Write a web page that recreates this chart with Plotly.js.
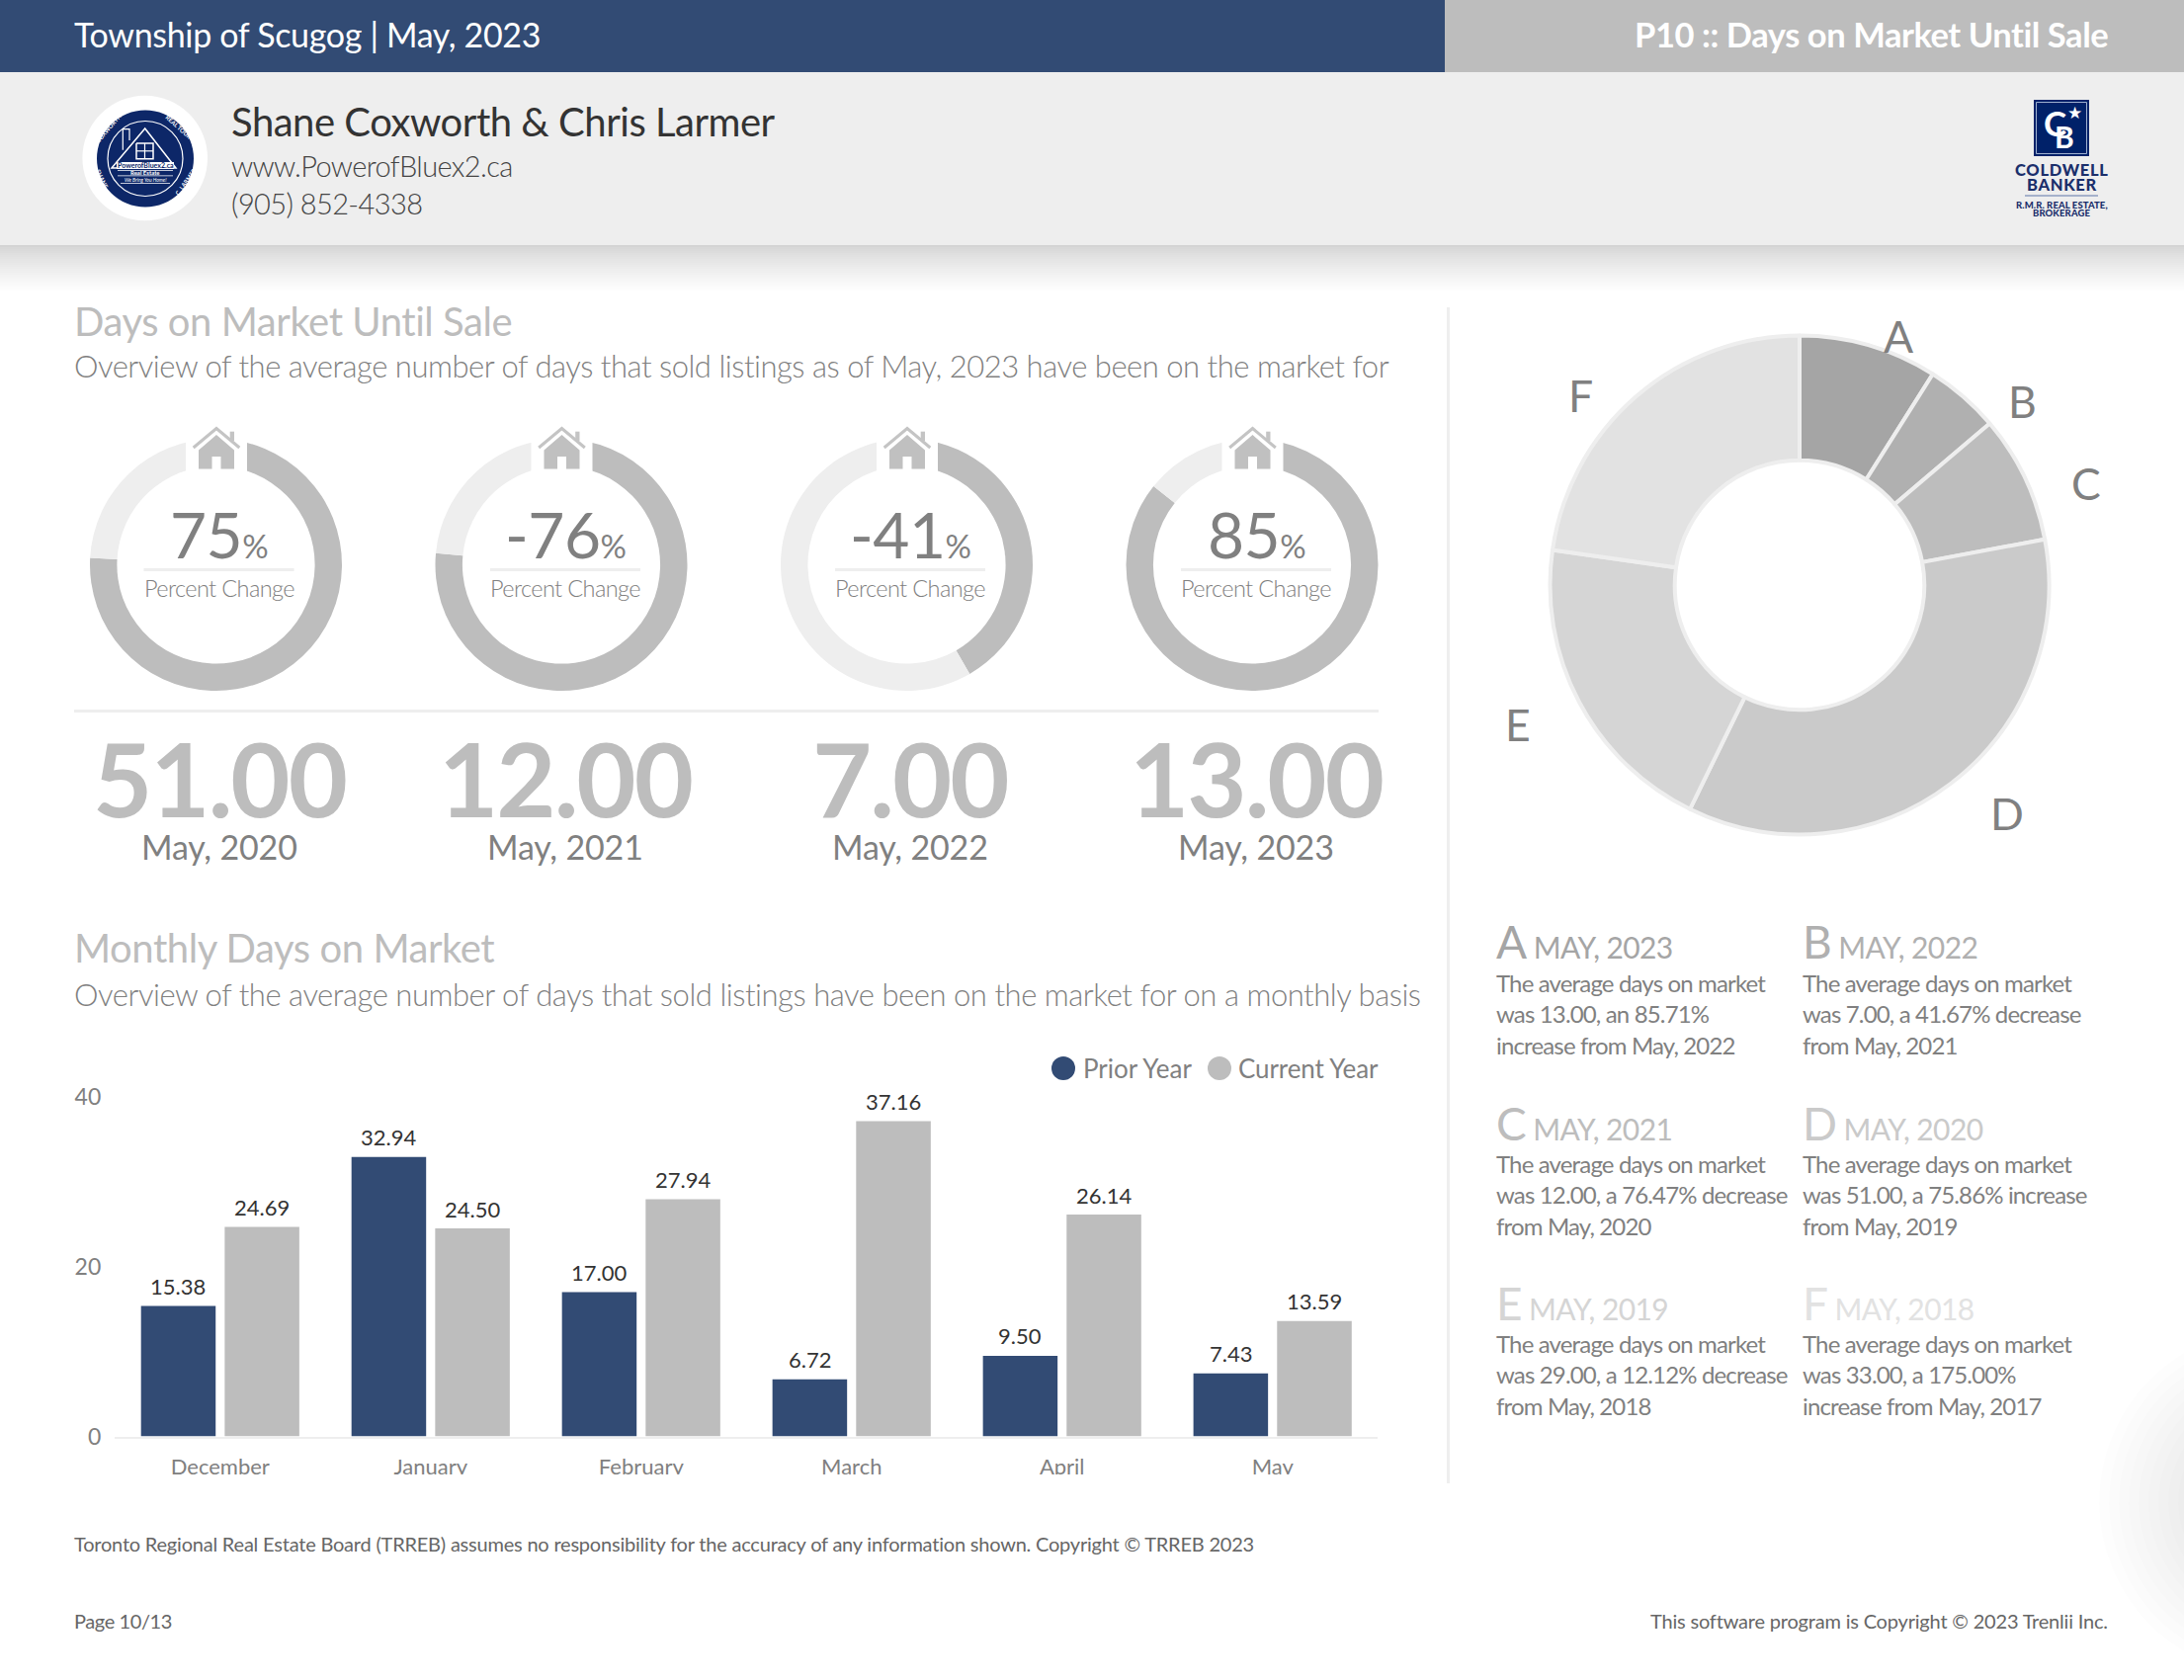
<!DOCTYPE html>
<html><head><meta charset="utf-8">
<script src="https://cdn.plot.ly/plotly-3.0.1.min.js"></script>
<style>html,body{margin:0;padding:0;background:#fff}#chart{width:2210px;height:1700px}</style>
</head><body><div id="chart"></div>
<script>
// ---------- data ----------
const months = ["December","January","February","March","April","May"];
const priorYear = [15.38,32.94,17.00,6.72,9.50,7.43];
const currentYear = [24.69,24.50,27.94,37.16,26.14,13.59];
const seriesNames = ["Prior Year","Current Year"];
const yTicks = [0,20,40];
const ringPeriods = ["May, 2020","May, 2021","May, 2022","May, 2023"];
const ringValues = ["51.00","12.00","7.00","13.00"];
const ringLabels = ["75","-76","-41","85"];
const ringShare = [75.86,76.47,41.67,85.71];
const pieLetters = ["A","B","C","D","E","F"];
const pieValues = [13,7,12,51,29,33];
const pieColors = ["#a5a5a5","#b0b0b0","#bdbdbd","#cacaca","#d5d5d5","#e2e2e2"];
const piePeriods = ["MAY, 2023","MAY, 2022","MAY, 2021","MAY, 2020","MAY, 2019","MAY, 2018"];
const pieNotes = [
 ["The average days on market","was 13.00, an 85.71%","increase from May, 2022"],
 ["The average days on market","was 7.00, a 41.67% decrease","from May, 2021"],
 ["The average days on market","was 12.00, a 76.47% decrease","from May, 2020"],
 ["The average days on market","was 51.00, a 75.86% increase","from May, 2019"],
 ["The average days on market","was 29.00, a 12.12% decrease","from May, 2018"],
 ["The average days on market","was 33.00, a 175.00%","increase from May, 2017"]
];
// ---------- page geometry helpers ----------
const W=2210,H=1700,FONT="Lato";
const fx=p=>p/W, fy=p=>1-p/H;
const NAVY="#324b74",GREY="#bdbdbd",PALE="#eeeeee";
const shapes=[],annotations=[];
function rect(x0,y0,x1,y1,c,layer){shapes.push({type:"rect",xref:"paper",yref:"paper",x0:fx(x0),x1:fx(x1),y0:fy(y0),y1:fy(y1),fillcolor:c,line:{width:0},layer:layer||"above"});}
function circle(cx,cy,r,fill,lc,lw,layer){shapes.push({type:"circle",xref:"paper",yref:"paper",x0:fx(cx-r),x1:fx(cx+r),y0:fy(cy+r),y1:fy(cy-r),fillcolor:fill,line:{width:lw||0,color:lc||fill},layer:layer||"above"});}
function path(pts,fill,lc,lw){const d=pts.map((p,i)=>(i?"L":"M")+fx(p[0]).toFixed(6)+","+fy(p[1]).toFixed(6)).join(" ")+(fill?" Z":"");
 shapes.push({type:"path",xref:"paper",yref:"paper",path:d,fillcolor:fill||"rgba(0,0,0,0)",line:{width:lw||0,color:lc||fill},layer:"above"});}
function txt(t,x,y,size,color,o){o=o||{};const s=o.ls?`<span style="letter-spacing:${o.ls}px">${t}</span>`:t;
 annotations.push({text:s,x:fx(x),y:fy(y),xref:"paper",yref:"paper",showarrow:false,xanchor:o.a||"left",yanchor:"middle",align:o.a||"left",textangle:o.r||0,
 font:{family:FONT,size:size,color:color,weight:o.w||400,style:o.i?"italic":"normal"},borderpad:0,borderwidth:0});}

// ---------- page background glow, header ----------
for(let i=0;i<16;i++){circle(2300,1520,176-i*10,"rgba(0,0,0,0.0075)",null,0,"below");}
rect(0,0,1462,73,NAVY);rect(1462,0,W,73,GREY);rect(0,73,W,248,PALE);
const shadeSteps=24;
for(let i=0;i<shadeSteps;i++){const v=Math.round(212+(255-212)*Math.pow(i/(shadeSteps-1),0.8));rect(0,248+i*2,W,250+i*2,`rgb(${v},${v},${v})`);}
txt("Township of Scugog | May, 2023",75,34,34,"#ffffff",{ls:-0.33});
txt("P10 :: Days on Market Until Sale",2133,34,34.5,"#ffffff",{a:"right",w:700,ls:-0.44});
txt("Shane Coxworth & Chris Larmer",234,123,40,"#333333",{ls:-0.48});
txt("www.PowerofBluex2.ca",234,167,29,"#444444",{w:300,ls:-0.62});
txt("(905) 852-4338",234,205,29,"#444444",{w:300,ls:-0.6});
// agent badge
const BADGE="#0d2768";
circle(146.7,160,63.3,"#ffffff");circle(147,160.5,49,BADGE);circle(147,160.5,38,"rgba(0,0,0,0)","#ffffff",1.2);
path([[124.3,151.7],[124.3,130.7],[131,130.7],[131,142]],null,"#ffffff",1.2);
path([[146.7,130],[113,170],[178,170]],BADGE,"#ffffff",1.5);
path([[138,145],[155,145],[155,160.7],[138,160.7],[138,145]],null,"#ffffff",1.5);path([[146.5,145],[146.5,160.7]],null,"#ffffff",1.2);path([[138,152.8],[155,152.8]],null,"#ffffff",1.2);
rect(118,164,176,171,"#ffffff");
rect(119,172,175,172.8,"#ffffff");rect(119,177.5,175,178.3,"#ffffff");rect(122,185,172,185.8,"#ffffff");
txt("PowerofBluex2.ca",147,167.5,7,BADGE,{a:"center",w:700});
txt("Real Estate",147,175,6,"#ffffff",{a:"center",w:700});
txt("We Bring You Home!",147,181.7,5,"#ffffff",{a:"center",i:true});
txt("COXWORTH",110,130,6,"#ffffff",{a:"center",r:-50,w:700});
txt("REAL TOUR",181,128,6,"#ffffff",{a:"center",r:42,w:700});
txt("SHANE",103,181,6,"#ffffff",{a:"center",r:65,w:700});
txt("C. LARMER",187,184,6,"#ffffff",{a:"center",r:-55,w:700});
// brokerage mark
rect(2058,101,2114,158,"#002169");
path([[2060.5,103.5],[2111.5,103.5],[2111.5,155.5],[2060.5,155.5],[2060.5,103.5]],null,"#9fb0d0",1);
txt("C",2079,124,35,"#ffffff",{a:"center",w:700});txt("B",2089,138,30,"#ffffff",{a:"center",w:700});txt("★",2099,114,17,"#ffffff",{a:"center"});
txt("COLDWELL",2086,172,16.5,"#1b2f6b",{a:"center",w:900,ls:0.7});txt("BANKER",2086,187,16.5,"#1b2f6b",{a:"center",w:900,ls:0.7});
rect(2049,197.5,2123,198.5,"#5d74a8");
txt("R.M.R. REAL ESTATE,",2086,207,9.5,"#1b2f6b",{a:"center",w:900,ls:0.1});txt("BROKERAGE",2086,215.5,9.5,"#1b2f6b",{a:"center",w:900,ls:0.1});

// ---------- section headings ----------
txt("Days on Market Until Sale",75,325,40,GREY,{ls:-0.45});
txt("Overview of the average number of days that sold listings as of May, 2023 have been on the market for",75,370.5,31,"#808080",{w:300,ls:-0.48});
txt("Monthly Days on Market",75,959,40,GREY,{ls:-0.45});
txt("Overview of the average number of days that sold listings have been on the market for on a monthly basis",75,1006,31,"#808080",{w:300,ls:-0.46});
rect(75,718,1395,721,PALE);rect(1464,311,1467,1501,PALE);

// ---------- rings ----------
const traces=[];
const ringCx=[218.5,568,917.5,1267],ringCy=571.5,ringR=127.5,textCx=[221.5,572,921,1271];
function house(c){
 const cx=c+0.5;
 rect(cx-31,430,cx+31,490,"#ffffff");
 path([[cx-23.3,453],[cx,433.5],[cx+23.3,453]],null,"#c4c4c4",3);
 rect(cx+13.7,436.7,cx+18,446,"#c4c4c4");
 path([[cx-18,474.5],[cx-18,455.5],[cx,440],[cx+18,455.5],[cx+18,474.5],[cx+4.5,474.5],[cx+4.5,462],[cx-4.5,462],[cx-4.5,474.5]],"#c0c0c0");
}
ringShare.forEach((v,i)=>{
 traces.push({type:"pie",values:[v,100-v],sort:false,direction:"clockwise",rotation:0,hole:0.785,textinfo:"none",hoverinfo:"skip",showlegend:false,
  marker:{colors:[GREY,PALE],line:{width:0}},
  domain:{x:[fx(ringCx[i]-ringR),fx(ringCx[i]+ringR)],y:[fy(ringCy+ringR),fy(ringCy-ringR)]}});
 house(ringCx[i]);
 txt(`${ringLabels[i]}<span style="font-size:33px">%</span>`,textCx[i],540,64,"#808080",{a:"center",ls:-0.5});
 rect(textCx[i]-76,575,textCx[i]+76,578,PALE);
 txt("Percent Change",textCx[i],595,23.5,"#808080",{a:"center",w:300,ls:-0.6});
 txt(ringValues[i],textCx[i],787,104,GREY,{a:"center",w:700,ls:-2});
 txt(ringPeriods[i],textCx[i],856,34,"#808080",{a:"center",ls:-0.15});
});

// ---------- big donut ----------
const pieCx=1821,pieCy=592,pieR=252.5;
traces.push({type:"pie",values:pieValues,labels:pieLetters,sort:false,direction:"clockwise",rotation:0,hole:0.5,textinfo:"none",hoverinfo:"skip",showlegend:false,
 marker:{colors:pieColors,line:{width:4,color:PALE}},
 domain:{x:[fx(pieCx-pieR),fx(pieCx+pieR)],y:[fy(pieCy+pieR),fy(pieCy-pieR)]}});
const pieLabelPos=[[1921,340],[2046,406],[2111,489],[2031,822],[1536,732],[1599,399]];
pieLetters.forEach((l,i)=>txt(l,pieLabelPos[i][0],pieLabelPos[i][1],44.5,"#808080",{a:"center"}));

// ---------- donut key ----------
const keyX=[1514,1824],keyY=[953,1136,1318];
pieLetters.forEach((l,i)=>{
 const x=keyX[i%2],y=keyY[Math.floor(i/2)];
 txt(`<span style="font-size:46px">${l}</span> ${piePeriods[i]}`,x,y,30,pieColors[i],{ls:-0.6});
 pieNotes[i].forEach((s,j)=>txt(s,x,y+41+j*31.5,24,"#808080",{ls:-0.85}));
});

// ---------- bar chart ----------
[[priorYear,NAVY,seriesNames[0],-42.3],[currentYear,GREY,seriesNames[1],42.3]].forEach(([vals,color,name,shift])=>{
 traces.push({type:"bar",name:name,x:months,y:vals,marker:{color:color},hoverinfo:"skip",showlegend:false});
 vals.forEach((v,i)=>annotations.push({xref:"x",yref:"y",x:months[i],y:v,xanchor:"center",yanchor:"middle",xshift:shift,yshift:20,showarrow:false,text:v.toFixed(2),font:{family:FONT,size:22,color:"#333333"},borderpad:0}));
});
rect(100,1492,1420,1512,"#ffffff");
circle(1076,1081,12,NAVY);txt(seriesNames[0],1096,1081,26,"#808080");
circle(1234,1081,12,GREY);txt(seriesNames[1],1253,1081,26,"#808080",{ls:-0.1});

// ---------- footer ----------
txt("Toronto Regional Real Estate Board (TRREB) assumes no responsibility for the accuracy of any information shown. Copyright © TRREB 2023",75,1561.5,20,"#666666",{ls:-0.21});
txt("Page 10/13",75,1640,20,"#666666",{ls:-0.4});
txt("This software program is Copyright © 2023 Trenlii Inc.",2133,1640,20,"#666666",{a:"right",ls:-0.19});

const layout={width:W,height:H,margin:{l:0,r:0,t:0,b:0,pad:0},paper_bgcolor:"#ffffff",plot_bgcolor:"rgba(0,0,0,0)",showlegend:false,
 barmode:"group",bargap:0.205,bargroupgap:0.108,font:{family:FONT},
 xaxis:{domain:[fx(116.3),fx(1394.2)],anchor:"y",type:"category",categoryorder:"array",categoryarray:months,showgrid:false,zeroline:false,showline:true,linecolor:PALE,linewidth:2,ticks:"",ticklabelstandoff:10,tickfont:{family:FONT,size:22,color:"#808080"},fixedrange:true},
 yaxis:{domain:[fy(1453.5),fy(1110)],anchor:"x",range:[0,40],tickmode:"array",tickvals:yTicks,showgrid:false,zeroline:false,showline:false,ticks:"",ticklabelstandoff:13,tickfont:{family:FONT,size:23,color:"#808080"},fixedrange:true},
 shapes:shapes,annotations:annotations};
Plotly.newPlot("chart",traces,layout,{displayModeBar:false,staticPlot:true});
</script></body></html>
